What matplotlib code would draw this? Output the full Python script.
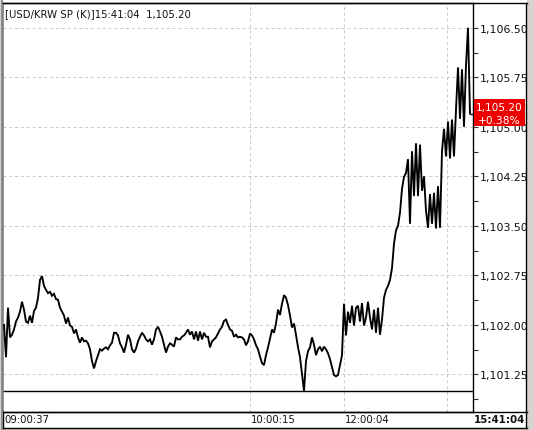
import matplotlib
matplotlib.use("Agg")
import matplotlib.pyplot as plt
from matplotlib.lines import Line2D
from matplotlib.patches import Rectangle
from matplotlib.transforms import blended_transform_factory

# ---------------- data ----------------
title_text = "[USD/KRW SP (K)]15:41:04  1,105.20"
last_price = 1105.20
prev_close = 1101.00
change_text = "+0.38%"

prices = [
    1102.00, 1101.51, 1102.26, 1101.81, 1101.85, 1101.93, 1102.05, 1102.11, 1102.20, 1102.35,
    1102.23, 1102.05, 1102.03, 1102.14, 1102.03, 1102.21, 1102.26, 1102.41, 1102.68, 1102.74,
    1102.59, 1102.53, 1102.48, 1102.50, 1102.44, 1102.47, 1102.39, 1102.38, 1102.26, 1102.20,
    1102.14, 1102.02, 1102.11, 1101.99, 1101.97, 1101.87, 1101.93, 1101.81, 1101.73, 1101.81,
    1101.75, 1101.76, 1101.72, 1101.63, 1101.45, 1101.34, 1101.45, 1101.54, 1101.63, 1101.61,
    1101.64, 1101.66, 1101.63, 1101.69, 1101.73, 1101.88, 1101.88, 1101.84, 1101.72, 1101.66,
    1101.58, 1101.70, 1101.85, 1101.78, 1101.63, 1101.58, 1101.64, 1101.75, 1101.82, 1101.88,
    1101.84, 1101.78, 1101.75, 1101.78, 1101.70, 1101.78, 1101.93, 1101.97, 1101.90, 1101.82,
    1101.70, 1101.58, 1101.67, 1101.72, 1101.70, 1101.67, 1101.81, 1101.78, 1101.78, 1101.82,
    1101.84, 1101.88, 1101.93, 1101.85, 1101.90, 1101.78, 1101.90, 1101.76, 1101.90, 1101.78,
    1101.88, 1101.82, 1101.82, 1101.66, 1101.75, 1101.78, 1101.81, 1101.87, 1101.93, 1101.97,
    1102.06, 1102.08, 1102.00, 1101.93, 1101.91, 1101.82, 1101.85, 1101.81, 1101.82, 1101.81,
    1101.78, 1101.69, 1101.75, 1101.87, 1101.84, 1101.78, 1101.69, 1101.63, 1101.52, 1101.42,
    1101.39, 1101.54, 1101.66, 1101.79, 1101.93, 1101.88, 1102.02, 1102.23, 1102.15, 1102.32,
    1102.45, 1102.41, 1102.30, 1102.14, 1101.96, 1102.02, 1101.85, 1101.66, 1101.51, 1101.25,
    1101.00, 1101.45, 1101.60, 1101.66, 1101.81, 1101.70, 1101.54, 1101.63, 1101.67, 1101.60,
    1101.67, 1101.63, 1101.57, 1101.48, 1101.36, 1101.24, 1101.22, 1101.24, 1101.39, 1101.54,
    1102.32, 1101.84, 1102.20, 1102.03, 1102.29, 1101.99, 1102.26, 1102.29, 1102.05, 1102.33,
    1101.99, 1102.11, 1102.35, 1102.11, 1101.93, 1102.23, 1101.88, 1102.26, 1101.85, 1102.08,
    1102.41, 1102.53, 1102.59, 1102.68, 1102.86, 1103.23, 1103.43, 1103.50, 1103.70, 1104.06,
    1104.24, 1104.30, 1104.51, 1103.53, 1104.63, 1103.95, 1104.75, 1103.95, 1104.73, 1104.03,
    1104.25, 1103.73, 1103.47, 1103.98, 1103.53, 1104.00, 1103.46, 1104.10, 1103.47, 1104.63,
    1104.97, 1104.55, 1105.08, 1104.52, 1105.11, 1104.55, 1105.26, 1105.90, 1105.12, 1105.87,
    1105.00, 1105.93, 1106.50, 1105.20,
]

time_labels = ["09:00:37", "10:00:15", "12:00:04"]
time_label_idx = [0, 123, 170]
extra_grid_idx = [221.5]
last_time = "15:41:04"

y_major = [1101.25, 1102.00, 1102.75, 1103.50, 1104.25, 1105.00, 1105.75, 1106.50]

# ---------------- figure ----------------
W, H = 534, 431
fig = plt.figure(figsize=(W / 100, H / 100), dpi=100, facecolor="white")
plt.rcParams["font.family"] = ["DejaVu Sans"]

def fx(x):
    return x / W

def fy(y):
    return 1 - y / H

ax_l, ax_r, ax_t, ax_b = 3, 473, 4, 413
ax = fig.add_axes([fx(ax_l), fy(ax_b), (ax_r - ax_l) / W, (ax_b - ax_t) / H])
ax.set_facecolor("white")

n = len(prices)
xs = list(range(n))
ax.set_xlim(-0.5, n + 0.5)
ax.set_ylim(1100.68, 1106.815)

# grid
grid_kw = dict(color="#c8c8c8", lw=0.7, linestyle=(0, (3, 3)), zorder=1)
for v in y_major:
    ax.axhline(v, **grid_kw)
for i in time_label_idx[1:] + extra_grid_idx:
    ax.axvline(i, **grid_kw)

# previous close line
ax.axhline(prev_close, color="black", lw=1.0, zorder=2)

# price line
ax.plot(xs, prices, color="black", lw=1.35, solid_joinstyle="miter", zorder=3)
ax.hlines(prices[-1], n - 1, n + 0.5, color="black", lw=1.0, zorder=3)

# spines
for s in ["top", "right", "bottom"]:
    ax.spines[s].set_color("black")
    ax.spines[s].set_linewidth(1.0)
ax.spines["left"].set_color("#808080")
ax.spines["left"].set_linewidth(1.2)

# y ticks on right
ax.yaxis.tick_right()
ax.set_yticks(y_major)
ax.set_yticklabels([f"{v:,.2f}" for v in y_major], fontsize=7.9, color="#111111")
minor = [v - 0.375 for v in y_major] + [y_major[-1] + 0.375]
ax.set_yticks(minor, minor=True)
ax.tick_params(axis="y", which="both", direction="out", length=3.5, width=0.8,
               color="#333333", pad=1.5, left=False, right=True)
ax.set_xticks([])

# title text
ax.text(0.004, 1 - (14 - ax_t) / (ax_b - ax_t), title_text,
        transform=ax.transAxes, ha="left", va="center", fontsize=7.3, color="#111111", zorder=5)

# red last-price label
tr = blended_transform_factory(ax.transAxes, ax.transData)
bw = 51 / (ax_r - ax_l)
bh = 27 * (ax.get_ylim()[1] - ax.get_ylim()[0]) / (ax_b - ax_t)
ax.add_patch(Rectangle((1 + 1 / (ax_r - ax_l), last_price - bh / 2 + 0.015), bw, bh,
                       transform=tr, facecolor="#ee0000", edgecolor="none",
                       clip_on=False, zorder=6))
cx = 1 + 26.5 / (ax_r - ax_l)
ax.annotate(f"{last_price:,.2f}", xy=(cx, last_price), xycoords=tr, xytext=(0, 4.6),
            textcoords="offset points", ha="center", va="center", fontsize=7.6,
            color="white", zorder=7, annotation_clip=False)
ax.annotate(change_text, xy=(cx, last_price), xycoords=tr, xytext=(0, -4.6),
            textcoords="offset points", ha="center", va="center", fontsize=7.6,
            color="white", zorder=7, annotation_clip=False)

# x-axis label row
xtr = blended_transform_factory(ax.transData, ax.transAxes)
for lab, i in zip(time_labels, time_label_idx):
    ax.annotate(lab, xy=(i, 0), xycoords=xtr,
                xytext=(1 if i else 0.5, -5.2), textcoords="offset points",
                ha="left", va="center", fontsize=7.3, color="#111111", annotation_clip=False)
fig.text(fx(525), fy(420.5), last_time, ha="right", va="center", fontsize=7.4,
         fontweight="bold", color="#111111")

# frame lines
def hline(y, x0, x1, color="black", lw=1.0, z=20):
    fig.add_artist(Line2D([fx(x0), fx(x1)], [fy(y), fy(y)], color=color, lw=lw,
                          transform=fig.transFigure, zorder=z))

def vline(x, y0, y1, color="black", lw=1.0, z=20):
    fig.add_artist(Line2D([fx(x), fx(x)], [fy(y0), fy(y1)], color=color, lw=lw,
                          transform=fig.transFigure, zorder=z))

# right gray band that clips labels
fig.add_artist(Rectangle((fx(526.5), 0), 1 - fx(526.5), 1, transform=fig.transFigure,
                         facecolor="#d6d3ce", edgecolor="none", zorder=19))
fig.add_artist(Rectangle((0, 0), 1, fy(429.5), transform=fig.transFigure,
                         facecolor="#d6d3ce", edgecolor="none", zorder=19))
fig.add_artist(Rectangle((0, 0), fx(1.5), 1, transform=fig.transFigure,
                         facecolor="#d6d3ce", edgecolor="none", zorder=19))
hline(4, 3, 526.5)
hline(413, 3, 526.5)
hline(428.5, 3, 526.5)
vline(526, 4, 429)
vline(3, 413, 429)
vline(2.2, 0, 431, color="#808080", lw=1.2)

fig.savefig("out.png", dpi=100, facecolor="white")
